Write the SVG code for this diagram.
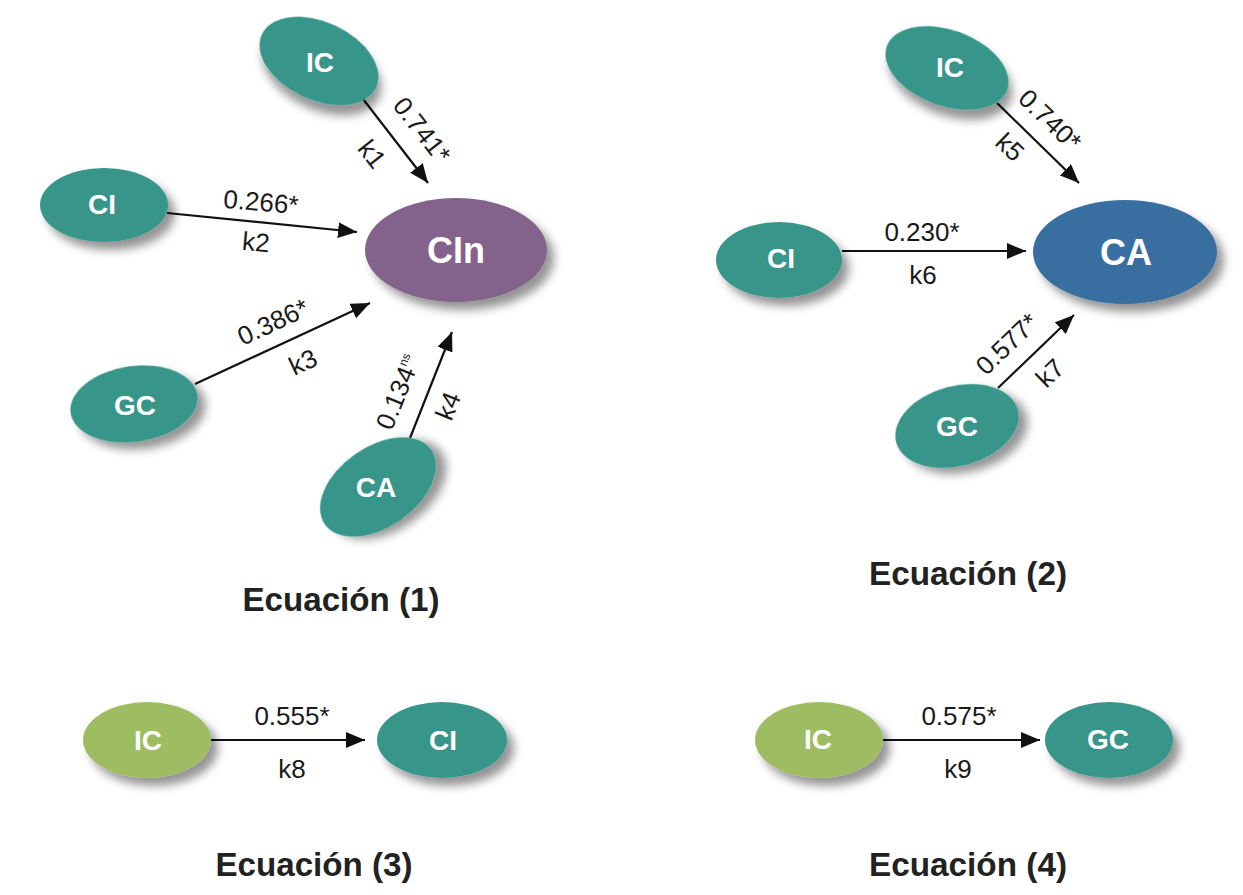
<svg xmlns="http://www.w3.org/2000/svg" width="1243" height="895" viewBox="0 0 1243 895">
<defs>
<filter id="sh" x="-30%" y="-30%" width="170%" height="180%">
<feDropShadow dx="7" dy="8" stdDeviation="5" flood-color="#000" flood-opacity="0.42"/>
</filter>
<marker id="ah" markerUnits="userSpaceOnUse" markerWidth="20" markerHeight="16" refX="19" refY="8" orient="auto">
<path d="M0,0 L19,8 L0,16 z" fill="#111"/>
</marker>
</defs>
<style>
.teal{fill:#37958a}
.purple{fill:#83628c}
.blue{fill:#396ea0}
.lime{fill:#9ebd62}
.n{font-family:"Liberation Sans",Arial,sans-serif;font-weight:bold;fill:#fff;text-anchor:middle;font-size:28px}
.nb{font-size:36px}
.l{font-family:"Liberation Sans",Arial,sans-serif;fill:#1a1a1a;text-anchor:middle;font-size:26px}
.t{font-family:"Liberation Sans",Arial,sans-serif;font-weight:bold;fill:#222;text-anchor:middle;font-size:34px}
.c{stroke:#111;stroke-width:2.2;fill:none;marker-end:url(#ah)}
</style>
<rect width="1243" height="895" fill="#fff"/>

<g id="connectors">
<line class="c" x1="363" y1="99" x2="428" y2="183"/>
<line class="c" x1="167" y1="213" x2="357" y2="232"/>
<line class="c" x1="195" y1="384" x2="370" y2="303"/>
<line class="c" x1="410" y1="438" x2="452" y2="332"/>
<line class="c" x1="997" y1="103" x2="1079" y2="183"/>
<line class="c" x1="842" y1="251" x2="1026" y2="251"/>
<line class="c" x1="998" y1="388" x2="1074" y2="315"/>
<line class="c" x1="211" y1="740" x2="365" y2="740"/>
<line class="c" x1="883" y1="740" x2="1040" y2="740"/>
</g>

<g id="edge-labels">
<text class="l" transform="translate(422,130) rotate(52)" y="9">0.741*</text>
<text class="l" transform="translate(372,154) rotate(52)" y="9">k1</text>
<text class="l" transform="translate(261,202) rotate(5)" y="9">0.266*</text>
<text class="l" transform="translate(256,242) rotate(5)" y="9">k2</text>
<text class="l" transform="translate(273,322) rotate(-25)" y="9">0.386*</text>
<text class="l" transform="translate(303,362) rotate(-25)" y="9">k3</text>
<text class="l" transform="translate(398,392) rotate(-68)" y="9">0.134<tspan font-size="12" dy="-11">ns</tspan></text>
<text class="l" transform="translate(448,406) rotate(-68)" y="9">k4</text>
<text class="l" transform="translate(1050,120) rotate(44)" y="9">0.740*</text>
<text class="l" transform="translate(1010,147) rotate(44)" y="9">k5</text>
<text class="l" x="922" y="241">0.230*</text>
<text class="l" x="923" y="284">k6</text>
<text class="l" transform="translate(1007,344) rotate(-44)" y="9">0.577*</text>
<text class="l" transform="translate(1050,373) rotate(-44)" y="9">k7</text>
<text class="l" x="292" y="725">0.555*</text>
<text class="l" x="292" y="778">k8</text>
<text class="l" x="959" y="725">0.575*</text>
<text class="l" x="958" y="778">k9</text>
</g>

<g id="eq1-IC"><ellipse class="teal" filter="url(#sh)" cx="319" cy="61" rx="63" ry="39" transform="rotate(25 319 61)"/><text class="n" x="320" y="72">IC</text></g>
<g id="eq1-CI"><ellipse class="teal" filter="url(#sh)" cx="104" cy="205" rx="64" ry="37"/><text class="n" x="102" y="214">CI</text></g>
<g id="eq1-CIn"><ellipse class="purple" filter="url(#sh)" cx="456" cy="250" rx="91" ry="52"/><text class="n nb" x="456" y="263">CIn</text></g>
<g id="eq1-GC"><ellipse class="teal" filter="url(#sh)" cx="134" cy="404" rx="64" ry="38" transform="rotate(-8 134 404)"/><text class="n" x="135" y="415">GC</text></g>
<g id="eq1-CA"><ellipse class="teal" filter="url(#sh)" cx="378" cy="487" rx="65" ry="40" transform="rotate(-35 378 487)"/><text class="n" x="376" y="497">CA</text></g>

<g id="eq2-IC"><ellipse class="teal" filter="url(#sh)" cx="947" cy="68" rx="64" ry="38" transform="rotate(20 947 68)"/><text class="n" x="950" y="77">IC</text></g>
<g id="eq2-CI"><ellipse class="teal" filter="url(#sh)" cx="779" cy="260" rx="63" ry="38"/><text class="n" x="781" y="268">CI</text></g>
<g id="eq2-CA"><ellipse class="blue" filter="url(#sh)" cx="1125" cy="252" rx="92" ry="52"/><text class="n nb" x="1126" y="265">CA</text></g>
<g id="eq2-GC"><ellipse class="teal" filter="url(#sh)" cx="957" cy="426" rx="63" ry="40" transform="rotate(-15 957 426)"/><text class="n" x="957" y="436">GC</text></g>

<g id="eq3-IC"><ellipse class="lime" filter="url(#sh)" cx="147" cy="740" rx="64" ry="38"/><text class="n" x="148" y="750">IC</text></g>
<g id="eq3-CI"><ellipse class="teal" filter="url(#sh)" cx="442" cy="740" rx="65" ry="38"/><text class="n" x="443" y="750">CI</text></g>

<g id="eq4-IC"><ellipse class="lime" filter="url(#sh)" cx="819" cy="740" rx="64" ry="38"/><text class="n" x="818" y="749">IC</text></g>
<g id="eq4-GC"><ellipse class="teal" filter="url(#sh)" cx="1109" cy="740" rx="64" ry="38"/><text class="n" x="1108" y="749">GC</text></g>

<g id="titles">
<text class="t" x="341" y="611" textLength="197" lengthAdjust="spacingAndGlyphs">Ecuación (1)</text>
<text class="t" x="968" y="585" textLength="198" lengthAdjust="spacingAndGlyphs">Ecuación (2)</text>
<text class="t" x="314" y="876" textLength="197" lengthAdjust="spacingAndGlyphs">Ecuación (3)</text>
<text class="t" x="968" y="876" textLength="198" lengthAdjust="spacingAndGlyphs">Ecuación (4)</text>
</g>
</svg>
